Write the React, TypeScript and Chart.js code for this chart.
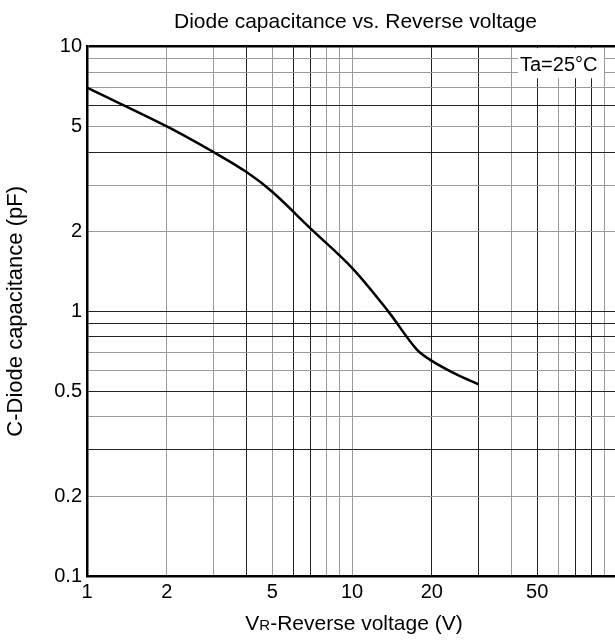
import React, { useEffect, useRef } from "react";
import { Chart, registerables } from "chart.js";

Chart.register(...registerables);

// ---------- DATA ----------
const voltage = [1, 2, 3, 4, 5, 7, 10, 13.7, 17.5, 20, 25, 30];
const capacitance = [7.0, 5.0, 4.0, 3.36, 2.83, 2.05, 1.46, 1.0, 0.72, 0.65, 0.575, 0.53];

const xTickLabels = [1, 2, 5, 10, 20, 50];
const yTickLabels = [0.1, 0.2, 0.5, 1, 2, 5, 10];

const xGridValues = [1, 2, 3, 4, 5, 6, 7, 8, 9, 10, 20, 30, 40, 50, 60, 70, 80, 90, 100];
const yGridValues = [0.1, 0.2, 0.3, 0.4, 0.5, 0.6, 0.7, 0.8, 0.9, 1, 2, 3, 4, 5, 6, 7, 8, 9, 10];

const titleText = "Diode capacitance vs. Reverse voltage";
const yTitleText = "C-Diode capacitance (pF)";
const xTitleMain = "V";
const xTitleSub = "R";
const xTitleRest = "-Reverse voltage (V)";
const noteText = "Ta=25°C";

// ---------- STYLE ----------
const FONT = "'Liberation Sans', Arial, Helvetica, sans-serif";
const DARK = "#222222";
const LIGHT = "#9a9a9a";
const xDarkLines = [4, 6, 7, 20, 30, 50, 70, 80];
const yDarkLines = [0.3, 0.5, 0.8, 0.9, 1, 4, 6];

const overlayPlugin = {
  id: "overlay",
  afterDraw(chart: any) {
    const { ctx, chartArea: a } = chart;
    ctx.save();
    // chart title
    ctx.fillStyle = "#000000";
    ctx.font = `21px ${FONT}`;
    ctx.textAlign = "center";
    ctx.textBaseline = "alphabetic";
    ctx.fillText(titleText, (a.left + a.right) / 2 + 3.5, a.top - 18.5);

    // note box
    ctx.fillStyle = "#ffffff";
    ctx.fillRect(a.right - 99, a.top + 1.5, 86, 30);
    ctx.fillStyle = "#000000";
    ctx.font = `20px ${FONT}`;
    ctx.textAlign = "left";
    ctx.fillText(noteText, a.right - 97, a.top + 24);

    // x axis title with small R
    const big = `21px ${FONT}`;
    const small = `15px ${FONT}`;
    ctx.font = big;
    const w1 = ctx.measureText(xTitleMain).width;
    const w3 = ctx.measureText(xTitleRest).width;
    ctx.font = small;
    const w2 = ctx.measureText(xTitleSub).width;
    const total = w1 + w2 + w3;
    let x = (a.left + a.right) / 2 - total / 2 + 2;
    const y = a.bottom + 54;
    ctx.font = big;
    ctx.fillText(xTitleMain, x, y);
    x += w1;
    ctx.font = small;
    ctx.fillText(xTitleSub, x, y);
    x += w2;
    ctx.font = big;
    ctx.fillText(xTitleRest, x, y);
    ctx.restore();
  },
};

export default function App() {
  const canvasRef = useRef<HTMLCanvasElement | null>(null);

  useEffect(() => {
    if (!canvasRef.current) return;
    const chart = new Chart(canvasRef.current, {
      type: "line",
      data: {
        datasets: [
          {
            data: voltage.map((v, i) => ({ x: v, y: capacitance[i] })),
            borderColor: "#000000",
            borderWidth: 2.5,
            pointRadius: 0,
            fill: false,
            tension: 0.35,
          },
        ],
      },
      options: {
        animation: false,
        responsive: false,
        devicePixelRatio: 1,
        layout: { padding: { left: 0, right: 94, top: 46.7, bottom: 0 } },
        plugins: {
          legend: { display: false },
          tooltip: { enabled: false },
          title: { display: false },
        },
        scales: {
          x: {
            type: "logarithmic",
            min: 1,
            max: 100,
            afterFit: (s: any) => {
              s.height = 65;
            },
            afterBuildTicks: (s: any) => {
              s.ticks = xGridValues.map((v) => ({ value: v }));
            },
            ticks: {
              autoSkip: false,
              maxRotation: 0,
              minRotation: 0,
              padding: 4,
              color: "#000000",
              font: { family: FONT, size: 20 },
              callback: (v: any) => (xTickLabels.includes(Number(v)) ? String(v) : ""),
            },
            grid: {
              drawTicks: false,
              color: (c: any) => (c.tick && xDarkLines.includes(c.tick.value) ? DARK : LIGHT),
              lineWidth: 1,
            },
            border: { display: true, color: "#000000", width: 2.5 },
            title: { display: false },
          },
          y: {
            type: "logarithmic",
            min: 0.1,
            max: 10,
            afterFit: (s: any) => {
              s.width = 87;
            },
            afterBuildTicks: (s: any) => {
              s.ticks = yGridValues.map((v) => ({ value: v }));
            },
            ticks: {
              autoSkip: false,
              padding: 5,
              color: "#000000",
              font: { family: FONT, size: 20 },
              callback: (v: any) => (yTickLabels.includes(Number(v)) ? String(v) : ""),
            },
            grid: {
              drawTicks: false,
              color: (c: any) =>
                c.tick && c.tick.value === 10 ? "#000000" : c.tick && yDarkLines.includes(c.tick.value) ? DARK : LIGHT,
              lineWidth: (c: any) => (c.tick && c.tick.value === 10 ? 2.5 : 1),
            },
            border: { display: true, color: "#000000", width: 2.5 },
            title: {
              display: true,
              text: yTitleText,
              color: "#000000",
              font: { family: FONT, size: 22, weight: "normal" },
              padding: { top: 3, bottom: 0 },
            },
          },
        },
      },
      plugins: [overlayPlugin],
    } as any);
    return () => chart.destroy();
  }, []);

  return (
    <div
      style={{
        position: "fixed",
        left: 0,
        top: 0,
        width: 615,
        height: 641,
        overflow: "hidden",
        background: "#ffffff",
      }}
    >
      <canvas ref={canvasRef} width={711} height={641} style={{ display: "block", width: 711, height: 641 }} />
    </div>
  );
}
